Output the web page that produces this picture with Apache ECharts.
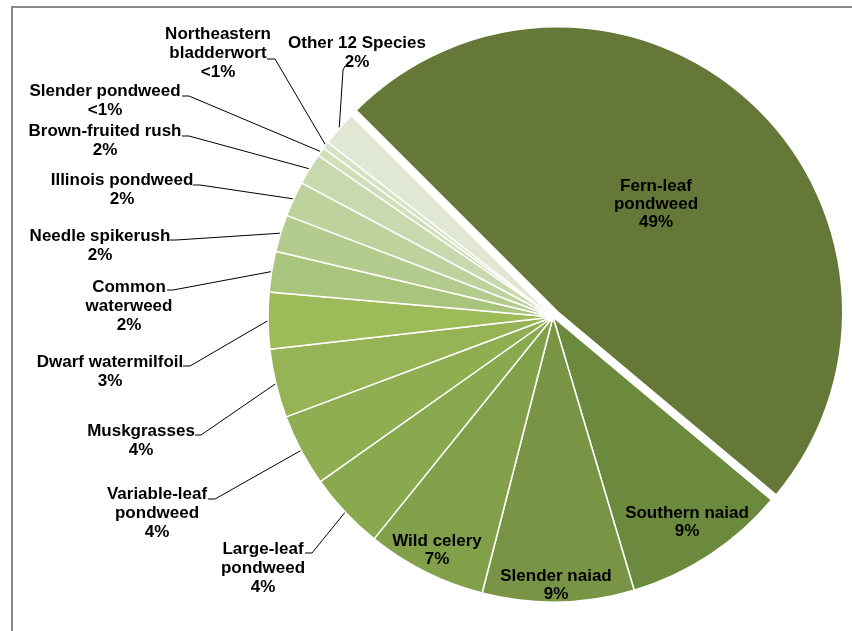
<!DOCTYPE html>
<html>
<head>
<meta charset="utf-8">
<script src="https://cdn.jsdelivr.net/npm/echarts@6/dist/echarts.min.js"></script>
<style>
html,body{margin:0;padding:0;background:#fff;}
#chart{width:852px;height:631px;}
</style>
</head>
<body>
<div id="chart"></div>
<script>
// ---- data ----
const categories = [
  "Fern-leaf pondweed", "Southern naiad", "Slender naiad", "Wild celery",
  "Large-leaf pondweed", "Variable-leaf pondweed", "Muskgrasses", "Dwarf watermilfoil",
  "Common waterweed", "Needle spikerush", "Illinois pondweed", "Brown-fruited rush",
  "Slender pondweed", "Northeastern bladderwort", "Other 12 Species"
];
const labelNames = [
  "Fern-leaf\npondweed", "Southern naiad", "Slender naiad", "Wild celery",
  "Large-leaf\npondweed", "Variable-leaf\npondweed", "Muskgrasses", "Dwarf watermilfoil",
  "Common\nwaterweed", "Needle spikerush", "Illinois pondweed", "Brown-fruited rush",
  "Slender pondweed", "Northeastern\nbladderwort", "Other 12 Species"
];
const percents = [48.6, 9.3, 8.6, 6.8, 4.4, 4.1, 3.9, 3.2, 2.3, 2.1, 2.0, 1.8, 0.5, 0.4, 2.0];
const colors = [
  "#657837", "#6b8a3d", "#7a9446", "#82a04a", "#89a94f", "#8fae52", "#96b455", "#9dbb59",
  "#a9c47b", "#b3cb8d", "#bed29e", "#c8d9ae", "#d0deb9", "#d6e2c3", "#e0e8d4"
];
const insideCount = 4;

// ---- label layout (positions of label blocks, not data) ----
// inside: [centerX, middleY]; outside: [centerX, firstLineCenterY, textEndX, textEndY, bendX, bendY]
const labelPos = [
  [678, 200], [687, 522], [556, 585], [437, 550],
  [263, 549, 305, 553, 312, 553],
  [157, 494, 208, 499, 215, 499],
  [141, 431, 195, 435, 201, 435],
  [110, 362, 183, 366, 190, 366],
  [129, 287, 167, 290, 173, 290],
  [100, 236, 170, 240, 176, 240],
  [122, 180, 193, 185, 200, 185],
  [105, 131, 182, 136, 189, 136],
  [105, 91, 182, 96, 189, 96],
  [218, 34, 267, 59, 275, 59],
  [357, 43, 345, 66, 343, 70]
];

function pctText(v) { return v < 1 ? "<1%" : Math.round(v) + "%"; }

const chart = echarts.init(document.getElementById('chart'), null, {renderer: 'canvas'});

const seriesData = categories.map((name, i) => ({
  name: name,
  value: percents[i],
  selected: i === 0,
  itemStyle: {color: colors[i]},
  label: {
    position: i < insideCount ? 'inside' : 'outside',
    lineHeight: i < insideCount ? 18 : 19
  },
  labelLine: {show: i >= insideCount}
}));

chart.setOption({
  animation: false,
  backgroundColor: '#ffffff',
  graphic: [{
    type: 'rect',
    shape: {x: 12, y: 7, width: 900, height: 700},
    style: {fill: 'none', stroke: '#8a8a8a', lineWidth: 2},
    silent: true
  }],
  series: [{
    type: 'pie',
    center: [553, 317],
    radius: 285,
    startAngle: 135,
    clockwise: true,
    selectedMode: 'single',
    selectedOffset: 7,
    avoidLabelOverlap: false,
    emphasis: {disabled: true},
    itemStyle: {borderColor: '#ffffff', borderWidth: 1.5},
    label: {
      show: true,
      fontFamily: 'Liberation Sans, Arial, sans-serif',
      fontWeight: 'bold',
      fontSize: 17,
      color: '#000',
      align: 'center',
      formatter: p => labelNames[p.dataIndex] + "\n" + pctText(p.value)
    },
    labelLine: {
      show: true,
      lineStyle: {color: '#000', width: 1},
      length: 20, length2: 10, smooth: false
    },
    labelLayout: function (params) {
      const i = params.dataIndex;
      const L = labelPos[i];
      if (i < insideCount) {
        return {x: L[0], y: L[1], align: 'center', verticalAlign: 'middle'};
      }
      const p0 = params.labelLinePoints ? params.labelLinePoints[0] : [L[4], L[5]];
      return {
        x: L[0], y: L[1] - 9.5, align: 'center', verticalAlign: 'top',
        labelLinePoints: [p0, [L[4], L[5]], [L[2], L[3]]]
      };
    },
    data: seriesData
  }]
});
</script>
</body>
</html>
